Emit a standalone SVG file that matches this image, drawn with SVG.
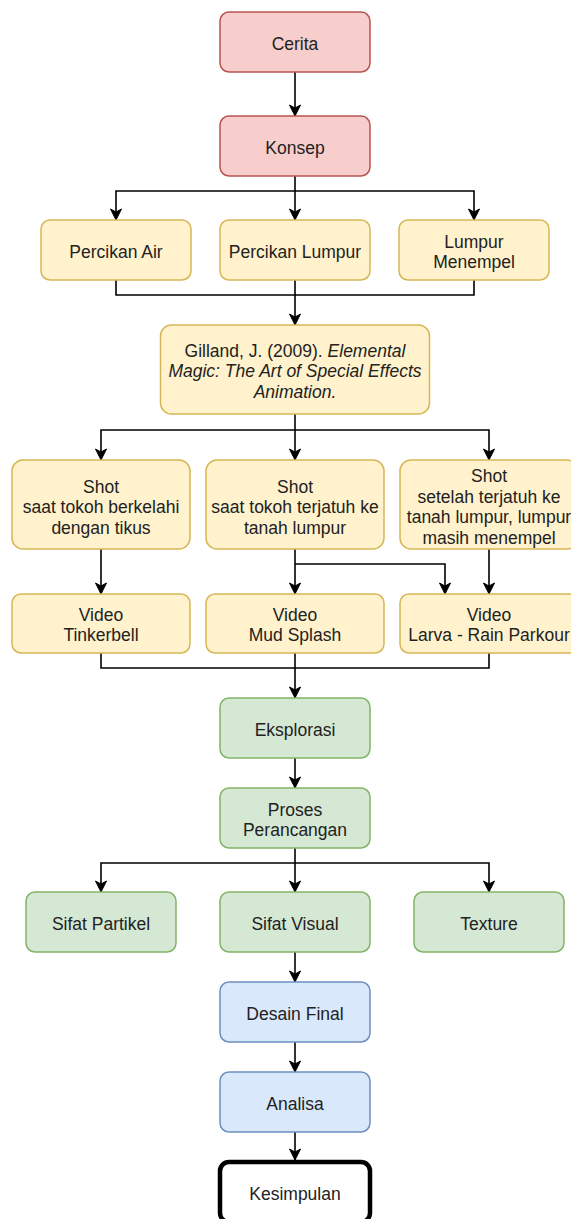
<svg xmlns="http://www.w3.org/2000/svg" width="571" height="1219" viewBox="0 0 571 1219">
<style>
text{font-family:"Liberation Sans",Arial,sans-serif;font-size:17.5px;fill:#222;text-anchor:middle}
.i{font-style:italic}
rect{stroke-width:1.5}
.red{fill:#f8cecc;stroke:#b85450}
.yel{fill:#fff2cc;stroke:#d6b656}
.grn{fill:#d5e8d4;stroke:#82b366}
.blu{fill:#dae8fc;stroke:#6c8ebf}
.end{fill:#ffffff;stroke:#000000;stroke-width:4.5}
#connectors path{fill:none;stroke:#000;stroke-width:1.6}
</style>
<defs>
<marker id="arr" markerUnits="userSpaceOnUse" viewBox="-1 -7 13 14" refX="11" refY="0" markerWidth="13" markerHeight="14" orient="auto">
<path d="M0,-5.5 L11,0 L0,5.5 L3,0 Z" fill="#000" stroke="#000" stroke-width="1"/>
</marker>
</defs>
<g id="connectors">
<path d="M295,72 V116" marker-end="url(#arr)"/>
<path d="M295,176 V220" marker-end="url(#arr)"/>
<path d="M295,191 H116 V220" marker-end="url(#arr)"/>
<path d="M295,191 H474 V220" marker-end="url(#arr)"/>
<path d="M116,280 V295 H474 V280"/>
<path d="M295,280 V325" marker-end="url(#arr)"/>
<path d="M295,414 V460" marker-end="url(#arr)"/>
<path d="M295,430 H101 V460" marker-end="url(#arr)"/>
<path d="M295,430 H489 V460" marker-end="url(#arr)"/>
<path d="M101,549 V594" marker-end="url(#arr)"/>
<path d="M295,549 V594" marker-end="url(#arr)"/>
<path d="M295,564 H445 V594" marker-end="url(#arr)"/>
<path d="M489,549 V594" marker-end="url(#arr)"/>
<path d="M101,653 V668 H489 V653"/>
<path d="M295,653 V698" marker-end="url(#arr)"/>
<path d="M295,758 V788" marker-end="url(#arr)"/>
<path d="M295,848 V892" marker-end="url(#arr)"/>
<path d="M295,863 H101 V892" marker-end="url(#arr)"/>
<path d="M295,863 H489 V892" marker-end="url(#arr)"/>
<path d="M295,952 V982" marker-end="url(#arr)"/>
<path d="M295,1042 V1072" marker-end="url(#arr)"/>
<path d="M295,1132 V1160" marker-end="url(#arr)"/>
</g>
<g id="cerita"><rect class="red" x="220" y="12" width="150" height="60" rx="9"/><text x="295" y="49.5">Cerita</text></g>
<g id="konsep"><rect class="red" x="220" y="116" width="150" height="60" rx="9"/><text x="295" y="153.5">Konsep</text></g>
<g id="percikan-air"><rect class="yel" x="41" y="220" width="150" height="60" rx="9"/><text x="116" y="257.5">Percikan Air</text></g>
<g id="percikan-lumpur"><rect class="yel" x="220" y="220" width="150" height="60" rx="9"/><text x="295" y="257.5">Percikan Lumpur</text></g>
<g id="lumpur-menempel"><rect class="yel" x="399" y="220" width="150" height="60" rx="9"/><text x="474" y="247.5">Lumpur</text><text x="474" y="268">Menempel</text></g>
<g id="gilland"><rect class="yel" x="160.5" y="325" width="269" height="89" rx="11"/>
<text x="295" y="356.5">Gilland, J. (2009). <tspan class="i">Elemental</tspan></text>
<text x="295" y="377" class="i">Magic: The Art of Special Effects</text>
<text x="295" y="397.5" class="i">Animation.</text></g>
<g id="shot1"><rect class="yel" x="12" y="460" width="178" height="89" rx="11"/><text x="101" y="492.5">Shot</text><text x="101" y="513">saat tokoh berkelahi</text><text x="101" y="533.5">dengan tikus</text></g>
<g id="shot2"><rect class="yel" x="206" y="460" width="178" height="89" rx="11"/><text x="295" y="492.5">Shot</text><text x="295" y="513">saat tokoh terjatuh ke</text><text x="295" y="533.5">tanah lumpur</text></g>
<g id="shot3"><rect class="yel" x="400" y="460" width="178" height="89" rx="11"/><text x="489" y="482">Shot</text><text x="489" y="502.5">setelah terjatuh ke</text><text x="489" y="523">tanah lumpur, lumpur</text><text x="489" y="543.5">masih menempel</text></g>
<g id="video1"><rect class="yel" x="12" y="594" width="178" height="59" rx="9"/><text x="101" y="620.5">Video</text><text x="101" y="641">Tinkerbell</text></g>
<g id="video2"><rect class="yel" x="206" y="594" width="178" height="59" rx="9"/><text x="295" y="620.5">Video</text><text x="295" y="641">Mud Splash</text></g>
<g id="video3"><rect class="yel" x="400" y="594" width="178" height="59" rx="9"/><text x="489" y="620.5">Video</text><text x="489" y="641">Larva - Rain Parkour</text></g>
<g id="eksplorasi"><rect class="grn" x="220" y="698" width="150" height="60" rx="9"/><text x="295" y="735.5">Eksplorasi</text></g>
<g id="proses"><rect class="grn" x="220" y="788" width="150" height="60" rx="9"/><text x="295" y="815.5">Proses</text><text x="295" y="836">Perancangan</text></g>
<g id="sifat-partikel"><rect class="grn" x="26" y="892" width="150" height="60" rx="9"/><text x="101" y="929.5">Sifat Partikel</text></g>
<g id="sifat-visual"><rect class="grn" x="220" y="892" width="150" height="60" rx="9"/><text x="295" y="929.5">Sifat Visual</text></g>
<g id="texture"><rect class="grn" x="414" y="892" width="150" height="60" rx="9"/><text x="489" y="929.5">Texture</text></g>
<g id="desain-final"><rect class="blu" x="220" y="982" width="150" height="60" rx="9"/><text x="295" y="1019.5">Desain Final</text></g>
<g id="analisa"><rect class="blu" x="220" y="1072" width="150" height="60" rx="9"/><text x="295" y="1109.5">Analisa</text></g>
<g id="kesimpulan"><rect class="end" x="220" y="1162" width="150" height="60" rx="9"/><text x="295" y="1199.5">Kesimpulan</text></g>
</svg>
